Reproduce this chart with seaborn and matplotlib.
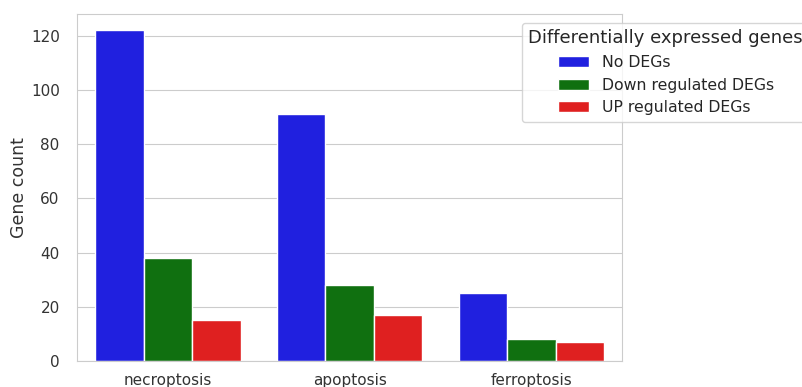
import seaborn as sns
import pandas as pd
import matplotlib
matplotlib.use('Agg')
import matplotlib.pyplot as plt

# Datos
pathways = ['necroptosis', 'apoptosis', 'ferroptosis']
groups = ['No DEGs', 'Down regulated DEGs', 'UP regulated DEGs']
no_degs = [122, 91, 25]
down_degs = [38, 28, 8]
up_degs = [15, 17, 7]

df = pd.DataFrame({
    'pathway': pathways * 3,
    'group': [groups[0]] * 3 + [groups[1]] * 3 + [groups[2]] * 3,
    'count': no_degs + down_degs + up_degs,
})

sns.set_style('whitegrid')
fig = plt.figure(figsize=(8.03, 3.87), dpi=100)
ax = fig.add_axes([0.096, 0.067, 0.679, 0.897])
sns.barplot(data=df, x='pathway', y='count', hue='group',
            palette=['blue', 'green', 'red'], ax=ax)
ax.set_xlabel('')
ax.set_ylabel('Gene count', fontsize=12.5, color='#333333', labelpad=2)
ax.tick_params(axis='both', labelsize=11, colors='#333333')
ax.tick_params(axis='y', pad=9)
ax.tick_params(axis='x', pad=5)
ax.legend(title='Differentially expressed genes', loc='upper left',
          bbox_to_anchor=(0.816, 0.975), borderaxespad=0,
          fontsize=11.3, title_fontsize=13, frameon=True)
plt.savefig('out.png', dpi=100)
